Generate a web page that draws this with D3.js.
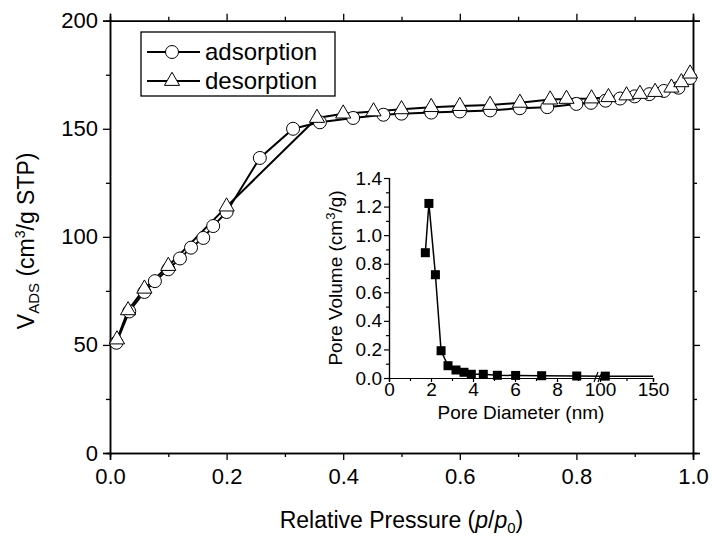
<!DOCTYPE html>
<html><head><meta charset="utf-8">
<script src="https://cdn.jsdelivr.net/npm/d3@7"></script>
<style>
body{margin:0;background:#fff;}
text{font-family:"Liberation Sans",Arial,sans-serif;fill:#000;}
</style></head>
<body><svg id="c" width="713" height="539"></svg>
<script>
// ---- main isotherm data ----
const adsP = [0.011,0.033,0.059,0.077,0.100,0.120,0.139,0.160,0.177,0.200,0.257,0.314,0.360,0.417,0.469,0.500,0.551,0.600,0.652,0.703,0.750,0.800,0.825,0.850,0.875,0.900,0.925,0.950,0.975,0.995];
const adsV = [51,65.5,74.5,79.5,85,90,95,99.5,105,111.5,136.5,150,153,155,156.5,157,157.5,158,158.5,159.5,160,161.5,162,163,164,165,166,167.5,169,173.5];
const desP = [0.012,0.031,0.059,0.100,0.200,0.355,0.400,0.452,0.500,0.551,0.600,0.652,0.703,0.755,0.783,0.826,0.855,0.886,0.909,0.935,0.963,0.980,0.995];
const desV = [52.5,66,76,86.5,114,155,157,158,159,160,160.5,161,162,163.5,163.8,164,164.6,165.4,166.1,167,169,171.5,175.5];
const xTicks = [0,0.2,0.4,0.6,0.8,1.0];
const yTicks = [0,50,100,150,200];
// ---- inset pore size distribution ----
const poreD = [1.73,1.90,2.21,2.48,2.81,3.19,3.57,3.92,4.49,5.16,6.03,7.27,8.94,105,150];
const poreV = [0.877,1.222,0.723,0.191,0.086,0.056,0.040,0.026,0.026,0.019,0.018,0.016,0.014,0.013,0.012];
const poreMarked = 14; // first n points get markers
const insetXTicks = [0,2,4,6,8,100,150];
const insetXMinor = [1,3,5,7,9,125];
const insetYTicks = [0,0.2,0.4,0.6,0.8,1.0,1.2,1.4];

const svg = d3.select("#c");
const L=110,R=693,T=20.7,B=453;
const x = d3.scaleLinear().domain([0,1]).range([L,R]);
const y = d3.scaleLinear().domain([0,200]).range([B,T]);
const fs = 22, tfs = 23;

// axes
const xMinor = d3.range(0.1,1.0,0.2);
const yMinor = d3.range(25,200,50);
function axisG(gen, tx, ty){ return svg.append("g").attr("transform",`translate(${tx},${ty})`).call(gen); }
const st = g=>{g.selectAll("path,line").attr("stroke","#000").attr("stroke-width",1.3);g.selectAll("text").attr("font-size",fs).attr("font-family","Liberation Sans, Arial");};
axisG(d3.axisBottom(x).tickValues(xMinor).tickSize(4).tickFormat(""),0,B).call(st);
axisG(d3.axisBottom(x).tickValues(xTicks).tickSize(7).tickPadding(8).tickFormat(d3.format(".1f")),0,B).call(st);
axisG(d3.axisTop(x).tickValues(xMinor).tickSize(4).tickFormat(""),0,T).call(st);
axisG(d3.axisTop(x).tickValues(xTicks).tickSize(7).tickFormat(""),0,T).call(st);
axisG(d3.axisLeft(y).tickValues(yMinor).tickSize(4).tickFormat(""),L,0).call(st);
axisG(d3.axisLeft(y).tickValues(yTicks).tickSize(7).tickPadding(5).tickFormat(d3.format("d")),L,0).call(st);
axisG(d3.axisRight(y).tickValues(yMinor).tickSize(4).tickFormat(""),R,0).call(st);
axisG(d3.axisRight(y).tickValues(yTicks).tickSize(7).tickFormat(""),R,0).call(st);
svg.selectAll(".domain").attr("stroke-width",1.5);

// titles
const xt = svg.append("text").attr("x",(L+R)/2).attr("y",528).attr("text-anchor","middle").attr("font-size",tfs);
xt.append("tspan").text("Relative Pressure (");
xt.append("tspan").attr("font-style","italic").text("p");
xt.append("tspan").text("/");
xt.append("tspan").attr("font-style","italic").text("p");
xt.append("tspan").attr("font-size",15).attr("dy",5).text("0");
xt.append("tspan").attr("dy",-5).text(")");

const yt = svg.append("text").attr("transform",`translate(34,${(T+B)/2+4}) rotate(-90)`).attr("text-anchor","middle").attr("font-size",tfs);
yt.append("tspan").text("V");
yt.append("tspan").attr("font-size",15).attr("dy",5).text("ADS");
yt.append("tspan").attr("dy",-5).text(" (cm");
yt.append("tspan").attr("font-size",14).attr("dy",-9).text("3");
yt.append("tspan").attr("dy",9).text("/g STP)");

// series
const line = d3.line();
const ads = adsP.map((p,i)=>[x(p),y(adsV[i])]);
const des = desP.map((p,i)=>[x(p),y(desV[i])]);
svg.append("path").attr("d",line(ads)).attr("fill","none").attr("stroke","#000").attr("stroke-width",2);
svg.append("path").attr("d",line(des)).attr("fill","none").attr("stroke","#000").attr("stroke-width",2);
svg.append("g").selectAll("circle").data(ads).join("circle")
  .attr("cx",d=>d[0]).attr("cy",d=>d[1]).attr("r",6.5).attr("fill","#fff").attr("stroke","#000").attr("stroke-width",1);
const tri = d3.symbol().type(d3.symbolTriangle).size(100);
svg.append("g").selectAll("path").data(des).join("path")
  .attr("d",tri).attr("transform",d=>`translate(${d[0]},${d[1]})`).attr("fill","#fff").attr("stroke","#000").attr("stroke-width",1);

// legend
svg.append("rect").attr("x",141).attr("y",32).attr("width",194).attr("height",64).attr("fill","#fff").attr("stroke","#000").attr("stroke-width",1.3);
const legItems = [{name:"adsorption",type:"circle"},{name:"desorption",type:"tri"}];
legItems.forEach((it,i)=>{
  const ly = 52 + i*29;
  svg.append("line").attr("x1",147).attr("x2",200).attr("y1",ly).attr("y2",ly).attr("stroke","#000").attr("stroke-width",2);
  if(it.type==="circle") svg.append("circle").attr("cx",172).attr("cy",ly).attr("r",6.5).attr("fill","#fff").attr("stroke","#000");
  else svg.append("path").attr("d",tri).attr("transform",`translate(172,${ly})`).attr("fill","#fff").attr("stroke","#000");
  svg.append("text").attr("x",205).attr("y",ly+8).attr("font-size",24).text(it.name);
});

// inset
const iL=389, iB=378;
const xi = d3.scaleLinear().domain([0,10,100,150]).range([iL,599,600,653]);
const yi = d3.scaleLinear().domain([0,1.4]).range([iB,178]);
const ifs = 19;
const sti = g=>{g.selectAll("path,line").attr("stroke","#000").attr("stroke-width",1.2);g.selectAll("text").attr("font-size",ifs).attr("font-family","Liberation Sans, Arial");};
axisG(d3.axisBottom(xi).tickValues(insetXMinor).tickSize(3).tickFormat(""),0,iB).call(sti);
axisG(d3.axisBottom(xi).tickValues(insetXTicks).tickSize(4).tickPadding(1).tickFormat(d3.format("d")),0,iB).call(sti);
axisG(d3.axisLeft(yi).tickValues(d3.range(0.1,1.4,0.2)).tickSize(3).tickFormat(""),iL,0).call(sti);
axisG(d3.axisLeft(yi).tickValues(insetYTicks).tickSize(5).tickPadding(2).tickFormat(d3.format(".1f")),iL,0).call(sti);
// axis break
[596,600].forEach(bx=>svg.append("line").attr("x1",bx-2).attr("y1",iB+4).attr("x2",bx+2).attr("y2",iB-6).attr("stroke","#000").attr("stroke-width",1.2));

const pore = poreD.map((d,i)=>[xi(d),yi(poreV[i])]);
svg.append("path").attr("d",line(pore)).attr("fill","none").attr("stroke","#000").attr("stroke-width",1.5);
svg.append("g").selectAll("rect").data(pore.slice(0,poreMarked)).join("rect")
  .attr("x",d=>d[0]-4.5).attr("y",d=>d[1]-4.5).attr("width",9).attr("height",9).attr("fill","#000");

svg.append("text").attr("x",(iL+653)/2).attr("y",419).attr("text-anchor","middle").attr("font-size",ifs).text("Pore Diameter (nm)");
const iyt = svg.append("text").attr("transform",`translate(342,${(iB+178)/2}) rotate(-90)`).attr("text-anchor","middle").attr("font-size",ifs);
iyt.append("tspan").text("Pore Volume (cm");
iyt.append("tspan").attr("font-size",13).attr("dy",-7).text("3");
iyt.append("tspan").attr("dy",7).text("/g)");
</script></body></html>
